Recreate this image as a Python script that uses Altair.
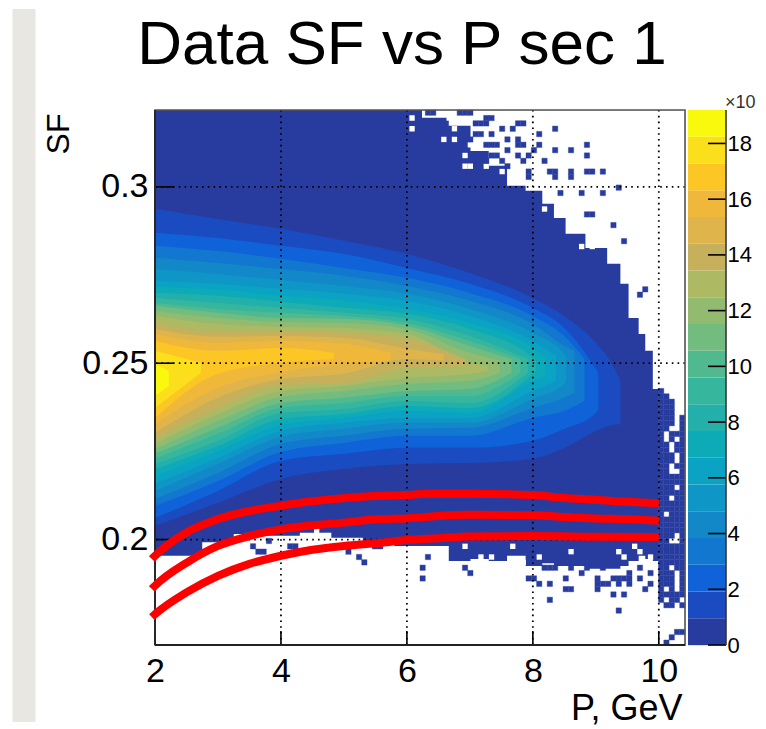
import altair as alt
import pandas as pd

TITLE = "Data SF vs P sec 1"
FONT = "Liberation Sans"
P_RANGE = [2.0, 10.416]
SF_RANGE = [0.1701, 0.3218]
P_TICKS = [2, 4, 6, 8, 10]
SF_TICKS = [0.2, 0.25, 0.3]
Z_TICKS = [0, 2, 4, 6, 8, 10, 12, 14, 16, 18]
Z_STEP = 0.96

COLORS = ["#283c9f", "#1a4bc0", "#0f62d8", "#1277cf", "#1288c8", "#0e96c6", "#0aa3c4",
          "#0dabb8", "#23b0aa", "#37b69e", "#50b990", "#72bc80", "#92bb70", "#aeb964",
          "#c6b05c", "#dfb44a", "#f0b83a", "#fcc724", "#fbdf1c", "#f9f90e"]

# Level 0: outline of the populated region
OUTLINE_P = [2, 2.5, 3, 3.5, 4, 4.6, 5, 5.6, 6, 6.48, 6.85, 7.17, 7.43, 7.75, 8.02, 8.28, 8.39,
             8.65, 9.02, 9.34, 9.44, 9.6, 9.76, 9.81, 10.0]
OUTLINE_UP = [.3218, .3218, .3218, .3218, .3218, .3218, .3218, .3218, .3218, .3196, .3173, .3102,
              .3060, .3003, .2989, .2952, .2912, .2867, .2827, .2782, .2725, .2628, .2583, .2535, .2427]
OUTLINE_LO = [.1954, .1954, .1992, .2016, .2011, .2019, .2005, .1992, .1982, .1982, .1939, .1945,
              .1939, .1954, .1925, .1933, .1925, .1925, .1917, .1917, .1925, .1939, .1954, .1945, .1939]

# Levels 1..19: upper and lower edge of each colour band (SF x 1000) at the listed P
BAND_P = [
    [2, 3, 4, 5, 6, 7, 8, 8.5, 9, 9.2, 9.39],
    [2, 3, 4, 5, 6, 7, 8, 8.5, 9, 9.04],
    [2, 3, 4, 5, 6, 7, 8, 8.5, 8.82],
    [2, 3, 4, 5, 6, 7, 8, 8.5, 8.66],
    [2, 3, 4, 5, 6, 7, 8, 8.5, 8.53],
    [2, 3, 4, 5, 6, 7, 8, 8.37],
    [2, 3, 4, 5, 6, 7, 8, 8.2],
    [2, 3, 4, 5, 6, 7, 8, 8.05],
    [2, 3, 4, 5, 6, 7, 7.92],
    [2, 3, 4, 5, 6, 7, 7.8],
    [2, 3, 4, 5, 6, 7, 7.66],
    [2, 3, 4, 5, 6, 7, 7.47],
    [2, 3, 4, 5, 6, 7, 7.28],
    [2, 3, 4, 5, 6, 6.93],
    [2, 3, 4, 5, 6, 6.58],
    [2, 3, 4, 5, 5.75],
    [2, 3, 4, 4.84],
    [2, 2.73],
    [2, 2.22],
]
BAND_UP = [
    [293.8, 290.9, 288.1, 284.7, 281.0, 275.6, 268.5, 263.4, 255.8, 251.5, 245.0],
    [287.0, 285.5, 283.3, 281.0, 277.0, 272.5, 265.7, 260.0, 248.4, 247.2],
    [283.3, 281.8, 279.6, 277.0, 274.2, 269.9, 263.4, 257.7, 251.2],
    [279.9, 278.4, 276.7, 274.8, 271.9, 267.7, 261.1, 254.9, 253.5],
    [276.7, 275.3, 273.6, 271.9, 269.7, 265.4, 258.6, 252.6, 251.5],
    [273.3, 272.5, 271.1, 269.7, 267.7, 263.4, 256.3, 252.1],
    [271.6, 270.8, 269.1, 267.7, 265.4, 261.4, 254.3, 251.5],
    [269.9, 269.1, 267.4, 265.7, 264.0, 259.7, 251.5, 250.7],
    [268.5, 267.1, 265.7, 264.3, 262.6, 257.7, 251.2],
    [267.1, 265.4, 264.3, 263.4, 261.4, 256.3, 251.2],
    [266.3, 264.3, 262.8, 262.6, 260.6, 254.9, 251.2],
    [264.8, 262.8, 261.7, 261.4, 259.7, 252.9, 250.7],
    [263.4, 261.1, 260.3, 260.0, 258.3, 250.1, 249.2],
    [261.4, 258.9, 259.2, 258.6, 256.9, 251.2],
    [259.7, 257.5, 257.7, 257.2, 254.1, 252.6],
    [258.3, 255.8, 256.3, 255.5, 252.9],
    [256.3, 253.5, 254.3, 252.9],
    [253.5, 250.1],
    [249.8, 247.8],
]
BAND_LO = [
    [203.9, 210.4, 217.2, 220.0, 221.4, 221.7, 222.9, 226.0, 230.8, 232.2, 232.8],
    [206.1, 213.8, 222.3, 224.3, 226.0, 226.0, 228.0, 231.4, 235.9, 237.0],
    [209.5, 216.6, 224.8, 227.4, 229.4, 229.4, 234.5, 236.5, 239.3],
    [211.5, 218.9, 227.1, 229.4, 231.4, 231.7, 237.3, 240.2, 241.6],
    [213.8, 221.4, 229.1, 231.4, 233.1, 233.1, 239.9, 244.1, 245.0],
    [215.8, 223.1, 230.8, 233.1, 234.5, 234.5, 242.1, 245.0],
    [218.0, 225.1, 232.5, 234.5, 236.5, 235.9, 245.0, 246.4],
    [220.0, 226.5, 234.2, 235.6, 237.9, 237.3, 247.0, 247.8],
    [221.4, 228.0, 235.9, 237.0, 239.3, 238.7, 247.3],
    [222.9, 230.0, 237.3, 238.7, 240.7, 240.7, 247.3],
    [224.3, 231.7, 238.7, 240.2, 242.1, 242.7, 247.3],
    [225.7, 233.6, 240.4, 242.1, 244.1, 245.0, 247.3],
    [227.1, 235.6, 242.1, 243.6, 245.8, 247.0, 247.8],
    [228.5, 237.3, 243.8, 244.4, 248.7, 249.2],
    [230.2, 240.2, 245.5, 247.0, 251.2, 250.7],
    [232.8, 243.0, 247.5, 249.8, 250.7],
    [234.5, 247.0, 250.1, 251.2],
    [237.3, 247.3],
    [240.7, 243.6],
]

# Histogram bin size and isolated filled / empty bins (column, row)
BIN_P = 0.08416
BIN_SF = 0.001518
SPARSE_FILLED = [
    (51, 16), (50, 14), (50, 12), (58, 14), (59, 13), (70, 12), (71, 12), (72, 11), (74, 11), (77, 12),
    (77, 10), (78, 10), (83, 10), (84, 11), (85, 11), (86, 9), (88, 9), (87, 6), (74, 8), (92, 10),
    (89, 13), (88, 12), (87, 12), (86, 12), (89, 12), (83, 12), (83, 11), (87, 11), (89, 11), (91, 14),
    (91, 12), (93, 13), (93, 11), (80, 13), (75, 14), (73, 14), (74, 14), (77, 16), (78, 14), (81, 14),
    (84, 14), (18, 18), (19, 17), (20, 17), (21, 19), (25, 18), (26, 18), (36, 17), (38, 16), (39, 15),
    (41, 18), (42, 18), (51, 99), (52, 99), (57, 99), (58, 99), (59, 99), (62, 98), (63, 98), (60, 97),
    (61, 97), (62, 97), (65, 96), (67, 96), (68, 97), (69, 97), (75, 96), (72, 95), (60, 95), (61, 95),
    (63, 95), (59, 94), (62, 93), (63, 93), (66, 94), (68, 94), (69, 93), (81, 93), (64, 93), (68, 93),
    (72, 93), (64, 91), (66, 92), (68, 91), (70, 91), (71, 92), (75, 92), (78, 92), (81, 91), (69, 90),
    (73, 90), (65, 90), (66, 89), (62, 90), (63, 91), (74, 88), (75, 88), (75, 87), (78, 88), (78, 87),
    (81, 88), (82, 88), (84, 88), (70, 88), (70, 87), (80, 84), (76, 84), (84, 84), (87, 85), (81, 80),
    (82, 80), (86, 78), (88, 75), (92, 66), (91, 65),
]
SPARSE_EMPTY = [
    (17, 20), (30, 21), (32, 20), (34, 19), (37, 19), (58, 18), (61, 16), (63, 16), (67, 18), (69, 15),
    (72, 16), (78, 17), (87, 17), (88, 16), (90, 18), (91, 17), (93, 16), (73, 81), (79, 77), (80, 74),
    (82, 74), (65, 88), (59, 89), (58, 91), (48, 98), (48, 96), (54, 94), (56, 94), (55, 98), (56, 96),
    (59, 93), (60, 93), (58, 89), (62, 89), (64, 90), (67, 90), (68, 87), (69, 88), (70, 86), (60, 94),
    (63, 92), (64, 94), (65, 93),
]
# Filled bins of the last five columns above P = 10, by row
TAIL_ROWS = [47, 46, 45, 44, 43, 42, 41, 40, 39, 38, 37, 36, 35, 34, 33, 32, 31, 30, 29, 28, 27, 26, 25, 24,
             23, 22, 21, 20, 19, 18, 17, 16, 15, 14, 13, 12, 11, 10, 9, 8, 7, 2, 1, 0]
TAIL_COLS = ["0", "01", "012", "012", "012", "0124", "0124", "014", "0234", "024", "0134", "0134", "0124",
             "0124", "0134", "014", "01234", "01234", "0124", "01234", "0134", "01234", "01234", "0234",
             "01234", "01234", "01234", "0124", "014", "01234", "01234", "01234", "01234", "0134", "0124",
             "0124", "0124", "024", "01234", "023", "124", "34", "2", "1"]

CURVE_P_UP = [1.95, 2, 2.5, 3, 4, 4.85, 5.63, 6, 6.3, 7, 8, 8.5, 9, 9.5, 10]
CURVE_UP = [.1945, .1954, .2020, .2058, .2096, .2115, .2124, .2126, .2130, .2130, .2126, .2118, .2113, .2107, .2103]
CURVE_P_MID = [1.95, 2, 2.5, 3, 3.5, 4, 5, 5.6, 6, 6.5, 7, 8, 8.5, 9, 9.5, 10]
CURVE_MID = [.1860, .1869, .1934, .1982, .2010, .2029, .2048, .2058, .2060, .2067, .2070, .2069, .2064, .2060, .2058, .2053]
CURVE_P_LOW = [1.95, 2, 2.5, 3, 3.5, 4, 4.5, 5, 5.6, 6, 6.5, 7, 8, 9, 10]
CURVE_LOW = [.1780, .1788, .1850, .1897, .1931, .1954, .1971, .1982, .1991, .1999, .2004, .2009, .2010, .2008, .2007]

W, H = 530, 535
xs = alt.Scale(domain=P_RANGE, nice=False, zero=False)
ys = alt.Scale(domain=SF_RANGE, nice=False, zero=False)
X_AXIS = alt.Axis(
    values=P_TICKS, ticks=False, domain=False, grid=False, format="d", labelFont=FONT, labelFontSize=34,
    labelColor="black", labelPadding=9, labelFlush=False, title="P, GeV", titleFont=FONT, titleFontSize=36,
    titleFontWeight="normal", titleColor="black", titleAlign="right", titleX=527, titleY=74,
    titleBaseline="alphabetic")
Y_AXIS = alt.Axis(
    values=SF_TICKS, ticks=False, domain=False, grid=False, format=".2~f", labelFont=FONT, labelFontSize=34,
    labelColor="black", labelPadding=7, labelFlush=False, title="SF", titleFont=FONT, titleFontSize=32,
    titleFontWeight="normal", titleColor="black", titleAngle=270, titleAlign="right", titleX=-87, titleY=3,
    titleBaseline="alphabetic")
X = alt.X("P:Q", scale=xs, axis=X_AXIS)
Y = alt.Y("SF:Q", scale=ys, axis=Y_AXIS)
one = alt.Data(values=[{"a": 1}])

layers = []

# page strip on the left of the image
layers.append(alt.Chart(one).mark_rect(color="#e9e7e2").encode(
    x=alt.value(-142.5), x2=alt.value(-119.5), y=alt.value(-101), y2=alt.value(612)))

# title
layers.append(alt.Chart(one).mark_text(text=TITLE, font=FONT, fontSize=62, color="black", align="center",
                                       baseline="alphabetic").encode(x=alt.value(247), y=alt.value(-46)))

# outline
layers.append(alt.Chart(pd.DataFrame({"P": OUTLINE_P, "SF": OUTLINE_UP, "lo": OUTLINE_LO}))
              .mark_area(interpolate="step", color=COLORS[0]).encode(x=X, y=Y, y2="lo:Q"))

# colour bands
for k in range(19):
    d = pd.DataFrame({"P": BAND_P[k], "SF": [v / 1000 for v in BAND_UP[k]], "lo": [v / 1000 for v in BAND_LO[k]]})
    layers.append(alt.Chart(d).mark_area(interpolate="monotone", color=COLORS[k + 1]).encode(x=X, y=Y, y2="lo:Q"))


def cells(pairs):
    return pd.DataFrame({
        "P": [2 + c * BIN_P for c, r in pairs],
        "P2": [2 + (c + 1) * BIN_P for c, r in pairs],
        "SF": [0.17 + r * BIN_SF for c, r in pairs],
        "SF2": [0.17 + (r + 1) * BIN_SF for c, r in pairs],
    })


tail = [(95 + int(ch), r) for r, cols in zip(TAIL_ROWS, TAIL_COLS) for ch in cols]
layers.append(alt.Chart(cells(SPARSE_EMPTY)).mark_rect(color="white").encode(x=X, x2="P2:Q", y=Y, y2="SF2:Q"))
layers.append(alt.Chart(cells(SPARSE_FILLED + tail)).mark_rect(color=COLORS[0], stroke=COLORS[0], strokeWidth=0.4).encode(
    x=X, x2="P2:Q", y=Y, y2="SF2:Q"))

# dotted grid
layers.append(alt.Chart(pd.DataFrame({"P": P_TICKS[1:]})).mark_rule(
    color="black", strokeDash=[1.6, 4.2], strokeWidth=1.8).encode(x=X))
layers.append(alt.Chart(pd.DataFrame({"SF": SF_TICKS})).mark_rule(
    color="black", strokeDash=[1.6, 4.2], strokeWidth=1.8).encode(y=Y))

# inward ticks
layers.append(alt.Chart(pd.DataFrame({"P": P_TICKS})).mark_rule(color="black", strokeWidth=1.6).encode(
    x=X, y=alt.value(H - 14), y2=alt.value(H)))
layers.append(alt.Chart(pd.DataFrame({"SF": SF_TICKS})).mark_rule(color="black", strokeWidth=1.6).encode(
    y=Y, x=alt.value(0), x2=alt.value(19)))

# frame
layers.append(alt.Chart(one).mark_rect(filled=False, stroke="#555555", strokeWidth=1.6).encode(
    x=alt.value(0), x2=alt.value(W), y=alt.value(0), y2=alt.value(H)))
layers.append(alt.Chart(one).mark_rule(color="#222222", strokeWidth=1.8).encode(
    x=alt.value(0), y=alt.value(0), y2=alt.value(H)))
layers.append(alt.Chart(one).mark_rule(color="#222222", strokeWidth=1.8).encode(
    y=alt.value(H), x=alt.value(0), x2=alt.value(W)))

# red curves
for cp, cv in [(CURVE_P_UP, CURVE_UP), (CURVE_P_MID, CURVE_MID), (CURVE_P_LOW, CURVE_LOW)]:
    layers.append(alt.Chart(pd.DataFrame({"P": cp, "SF": cv})).mark_line(
        color="#ff0000", strokeWidth=8, interpolate="monotone", clip=False).encode(x=X, y=Y))

main = alt.layer(*layers).properties(width=W, height=H)

# palette bar
zs = alt.Scale(domain=[0, 20 * Z_STEP], nice=False, zero=False)
Z_AXIS = alt.Axis(orient="right", values=Z_TICKS, ticks=False, domain=False, grid=False, labelFont=FONT,
                  labelFontSize=22, labelColor="black", labelPadding=1, labelOverlap=False, labelFlush=False,
                  format="d", title=None)
bar_df = pd.DataFrame({"lo": [k * Z_STEP for k in range(20)], "hi": [(k + 1) * Z_STEP for k in range(20)],
                       "lvl": list(range(20))})
bar = alt.Chart(bar_df).mark_rect().encode(
    x=alt.value(0), x2=alt.value(38),
    y=alt.Y("lo:Q", scale=zs, axis=Z_AXIS),
    y2="hi:Q",
    color=alt.Color("lvl:O", scale=alt.Scale(domain=list(range(20)), range=COLORS), legend=None),
)
bar_ticks = alt.Chart(pd.DataFrame({"z": Z_TICKS})).mark_rule(color="black", strokeWidth=1.6).encode(
    y=alt.Y("z:Q", scale=zs, axis=Z_AXIS), x=alt.value(20), x2=alt.value(38))
bar_edge = alt.Chart(one).mark_rule(color="#333333", strokeWidth=1.5).encode(
    x=alt.value(38), y=alt.value(0), y2=alt.value(H))
bar_exp = alt.Chart(one).mark_text(text="×10", font=FONT, fontSize=18, align="left", baseline="alphabetic",
                                   color="#333333").encode(x=alt.value(37), y=alt.value(-2))
colorbar = alt.layer(bar, bar_ticks, bar_edge, bar_exp).properties(width=38, height=H)

chart = alt.hconcat(main, colorbar, spacing=0, padding={"left": 4, "top": 0, "right": 0, "bottom": 0}).configure_view(
    strokeWidth=0).configure(background="white")

chart.save("out.html", embed_options={"renderer": "svg", "actions": False})
